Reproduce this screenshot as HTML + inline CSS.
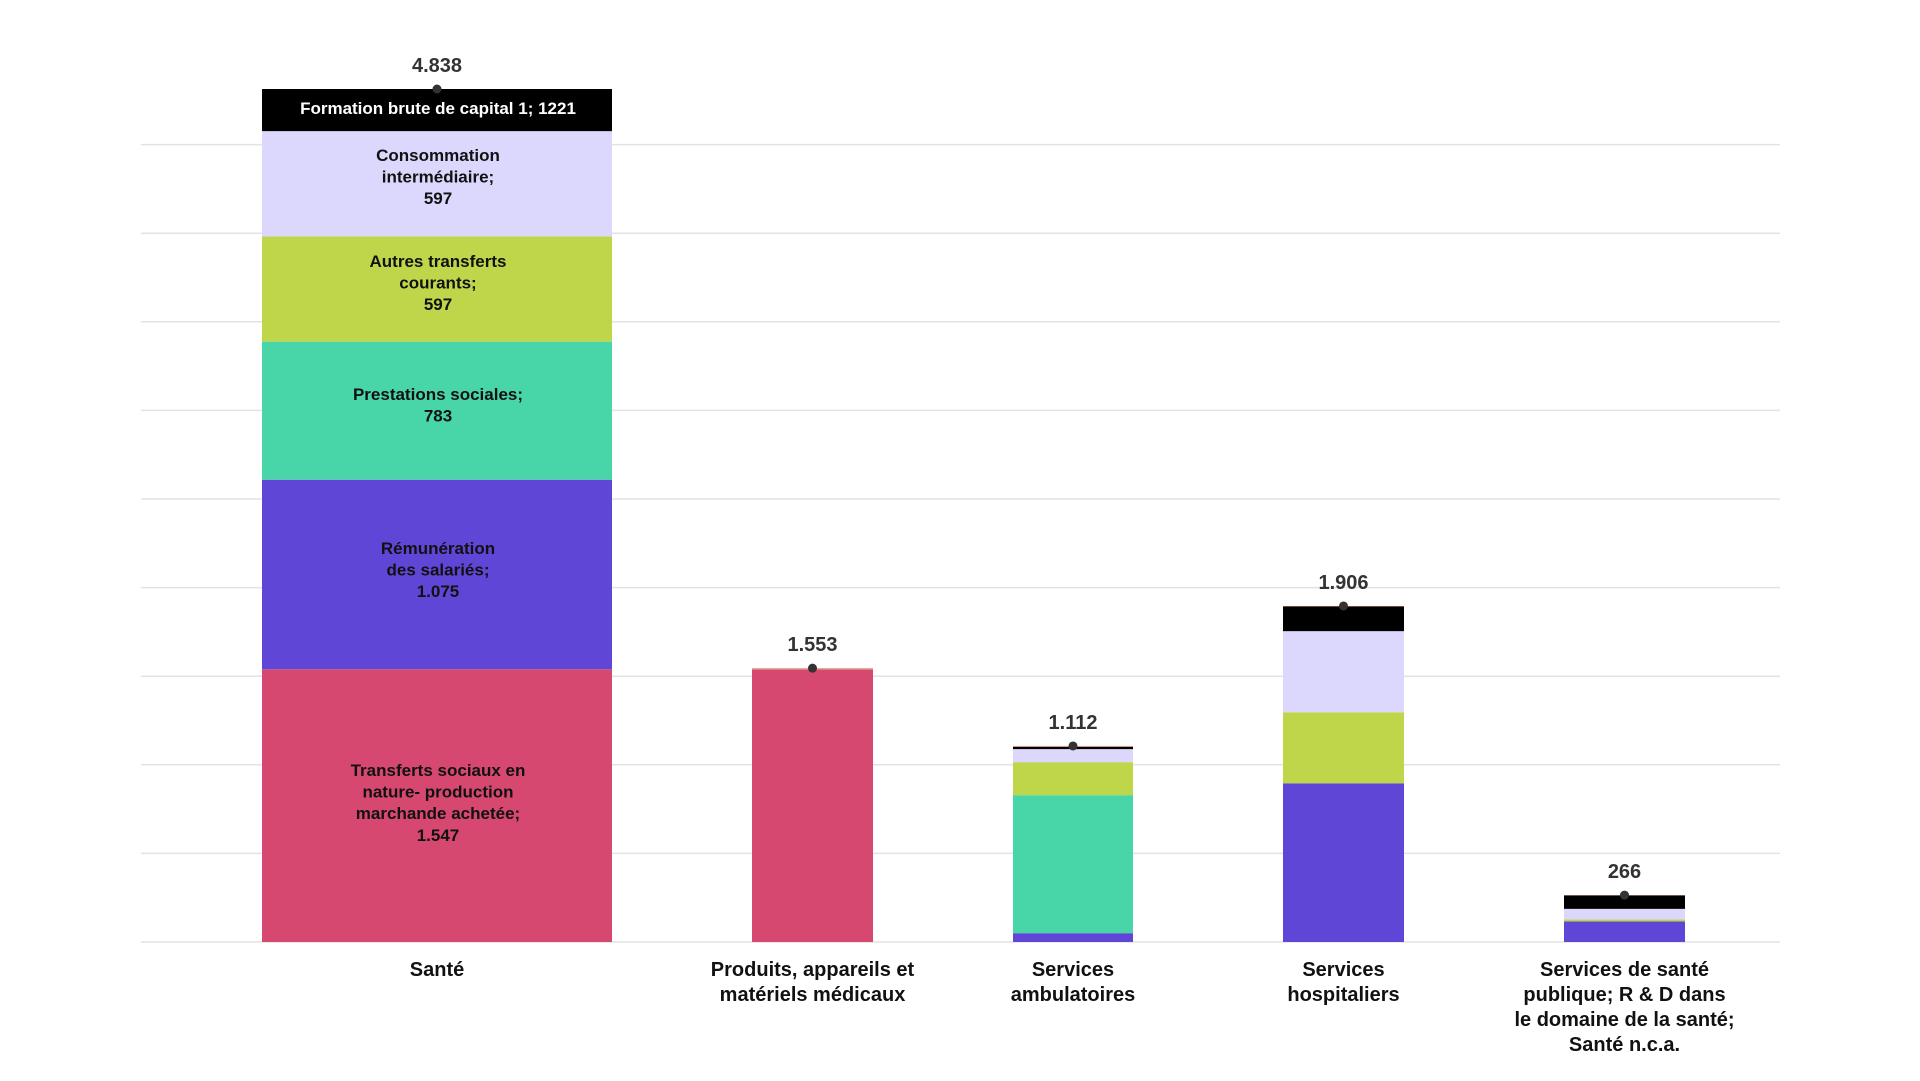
<!DOCTYPE html>
<html><head><meta charset="utf-8"><style>
html,body{margin:0;padding:0;background:#fff;}
svg{display:block;font-family:"Liberation Sans",sans-serif;}
</style></head><body>
<svg id="chart" width="1920" height="1081" viewBox="0 0 1920 1081" xmlns="http://www.w3.org/2000/svg">
<g id="grid"></g>
<g id="bars"></g>
<g id="labels"></g>
</svg>
<script>
const categories = [["Santé"],["Produits, appareils et","matériels médicaux"],["Services","ambulatoires"],["Services","hospitaliers"],["Services de santé","publique; R & D dans","le domaine de la santé;","Santé n.c.a."]];
const totals = [4838, 1553, 1112, 1906, 266];
const totalLabels = ["4.838","1.553","1.112","1.906","266"];
const seriesNames = ["transferts","remuneration","prestations","autres-transferts","consommation","formation","autres"];
const transferts   = [1547, 1545, 0, 0, 0];
const remuneration = [1075, 0, 50, 900, 117];
const prestations  = [783, 0, 783, 0, 0];
const autresTransf = [597, 0, 187, 403, 11];
const consommation = [597, 0, 74, 460, 60];
const formation    = [239, 0, 13, 140, 76];
const autres       = [0, 8, 5, 3, 2];
const gridTicks = [0,1,2,3,4,5,6,7,8,9];
const segLabels = [
  {s:0, lines:["Transferts sociaux en","nature- production","marchande achetée;","1.547"], y0:770},
  {s:1, lines:["Rémunération","des salariés;","1.075"], y0:548},
  {s:2, lines:["Prestations sociales;","783"], y0:394},
  {s:3, lines:["Autres transferts","courants;","597"], y0:261},
  {s:4, lines:["Consommation","intermédiaire;","597"], y0:155},
  {s:5, lines:["Formation brute de capital 1; 1221"], y0:108, white:true}
];
const series = [transferts, remuneration, prestations, autresTransf, consommation, formation, autres];
const colors = ["#d6486f","#6046d6","#48d6a8","#bfd64a","#dcd8fd","#000000","#d9967e"];
const NS="http://www.w3.org/2000/svg";
const baseY=942, k=853/4838;
const y = v => baseY - v*k;
const barX=[[262,612],[752,873],[1013,1133],[1283,1404],[1564,1685]];
function mk(tag, attrs, parent){const e=document.createElementNS(NS,tag);for(const a in attrs)e.setAttribute(a,attrs[a]);parent.appendChild(e);return e;}
const grid=document.getElementById('grid'), bars=document.getElementById('bars'), labels=document.getElementById('labels');
gridTicks.forEach(t=>{
  const gy = baseY - t*88.6;
  const l=mk('line',{x1:141,x2:1780,y1:gy,y2:gy,stroke:'#e3e3e3','stroke-width':1.5},grid);
  
  
});
categories.forEach((cat,i)=>{
  let cum=0;
  const [x0,x1]=barX[i];
  series.forEach((s,j)=>{
    const v=s[i]; if(v<=0) return;
    const r=mk('rect',{x:x0,y:y(cum+v),width:x1-x0,height:v*k,fill:colors[j]},bars);
    
    
    cum+=v;
  });
  const cx=(x0+x1)/2;
  const d=mk('circle',{cx:cx,cy:y(totals[i]),r:4.5,fill:'#333'},labels);
  
  
  const tl=mk('text',{x:cx,y:y(totals[i])-17,'text-anchor':'middle','font-size':20,'font-weight':'bold',fill:'#333'},labels);
  tl.textContent=totalLabels[i];
  
  
  cat.forEach((line,li)=>{
    const t=mk('text',{x:cx,y:976+li*25,'text-anchor':'middle','font-size':20,'font-weight':'bold',fill:'#111'},labels);
    t.textContent=line;
    
    
  });
});
segLabels.forEach(sl=>{
  sl.lines.forEach((line,li)=>{
    const t=mk('text',{x:438,y:sl.y0+6+li*21.6,'text-anchor':'middle','font-size':17,'font-weight':'bold',fill:sl.white?'#fff':'#111'},labels);
    t.textContent=line;
    
    
  });
});
</script>
</body></html>
